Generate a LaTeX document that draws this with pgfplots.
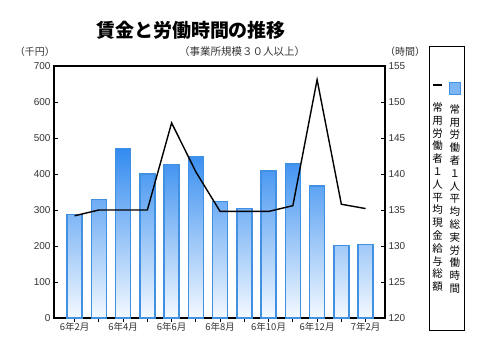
\documentclass[border=0pt]{standalone}
\usepackage{pgfplots}
\pgfplotsset{compat=1.18}
\usepackage{pgfplotstable}
\usepackage{fontspec}
\setmainfont{Liberation Sans}
\newfontfamily\cjk{Noto Sans CJK JP}
\definecolor{baredge}{HTML}{4290E2}
\definecolor{bartop}{HTML}{338BF0}
\definecolor{barbot}{HTML}{F4F9FF}
\definecolor{barmid}{HTML}{7DB6F4}
\definecolor{ticktext}{HTML}{333333}

\pgfplotstableread{
x wage hours
0 287 134.2
1 330 135.0
2 470 135.0
3 400 135.0
4 427 147.1
5 448 140.3
6 323 134.8
7 305 134.8
8 408 134.8
9 428 135.6
10 367 153.1
11 202 135.8
12 204 135.2
}\datatable

\begin{document}
\begin{tikzpicture}
\useasboundingbox (0,0) rectangle (480pt,360pt);
\pgfplotsset{
  common/.style={
    at={(54pt,42pt)}, anchor=south west,
    scale only axis, width=331pt, height=252pt,
    xmin=-0.85, xmax=12.8,
    tick align=inside,
    major tick length=4pt,
    axis line style={line width=1.4pt, black},
    every tick/.style={black, line width=1pt},
    yticklabel style={font=\fontsize{10}{12}\selectfont, text=ticktext},
    /pgf/number format/assume math mode=true,
  }
}
\begin{axis}[common,
  ymin=0, ymax=700, ytick={0,100,...,700},
  ytick pos=left, xtick pos=lower,
  xtick={0,...,12},
  xticklabels={6年2月,,6年4月,,6年6月,,6年8月,,6年10月,,6年12月,,7年2月},
  xticklabel style={font=\cjk\fontsize{9.5}{11}\selectfont, text=ticktext, yshift=-1pt},
  x tick style={yshift=-4pt},
]
\addplot[ybar, bar width=15pt, draw=baredge, line width=1.3pt,
  top color=bartop, bottom color=barbot] table[x=x, y=wage]{\datatable};
\end{axis}
\begin{axis}[common,
  ymin=120, ymax=155, ytick={120,125,...,155},
  axis x line=none, axis y line*=right,
  legend columns=2,
  legend style={at={(1.133,1.079)}, anchor=north west, draw=black, line width=0.6pt,
    inner xsep=1pt, inner ysep=34pt,
    font=\cjk\fontsize{10.5}{12.8}\selectfont,
    cells={align=center},
    /tikz/every even column/.append style={column sep=2pt}},
]
\addplot[black, line width=1.4pt, sharp plot, mark=none, legend image code/.code={}]
  table[x=x, y=hours]{\datatable};
\addlegendentry{\textcolor{black}{\rule[3pt]{9pt}{1.6pt}}\\[10pt]常\\用\\労\\働\\者\\１\\人\\平\\均\\現\\金\\給\\与\\総\\額}
\addlegendimage{legend image code/.code={}}
\addlegendentry{{\setlength\fboxsep{0pt}\setlength\fboxrule{1pt}\fcolorbox{baredge}{barmid}{\rule{0pt}{11pt}\hspace{10pt}}}\\[6pt]常\\用\\労\\働\\者\\１\\人\\平\\均\\総\\実\\労\\働\\時\\間}
\end{axis}
\node[font=\cjk\bfseries\fontsize{19}{22}\selectfont] at (191pt,330pt) {賃金と労働時間の推移};
\node[font=\cjk\fontsize{10.5}{12}\selectfont, text=ticktext] at (242pt,308pt) {（事業所規模３０人以上）};
\node[font=\cjk\fontsize{10}{11}\selectfont, text=ticktext] at (35pt,308pt) {（千円）};
\node[font=\cjk\fontsize{10}{11}\selectfont, text=ticktext] at (405pt,308pt) {（時間）};
\end{tikzpicture}
\end{document}
